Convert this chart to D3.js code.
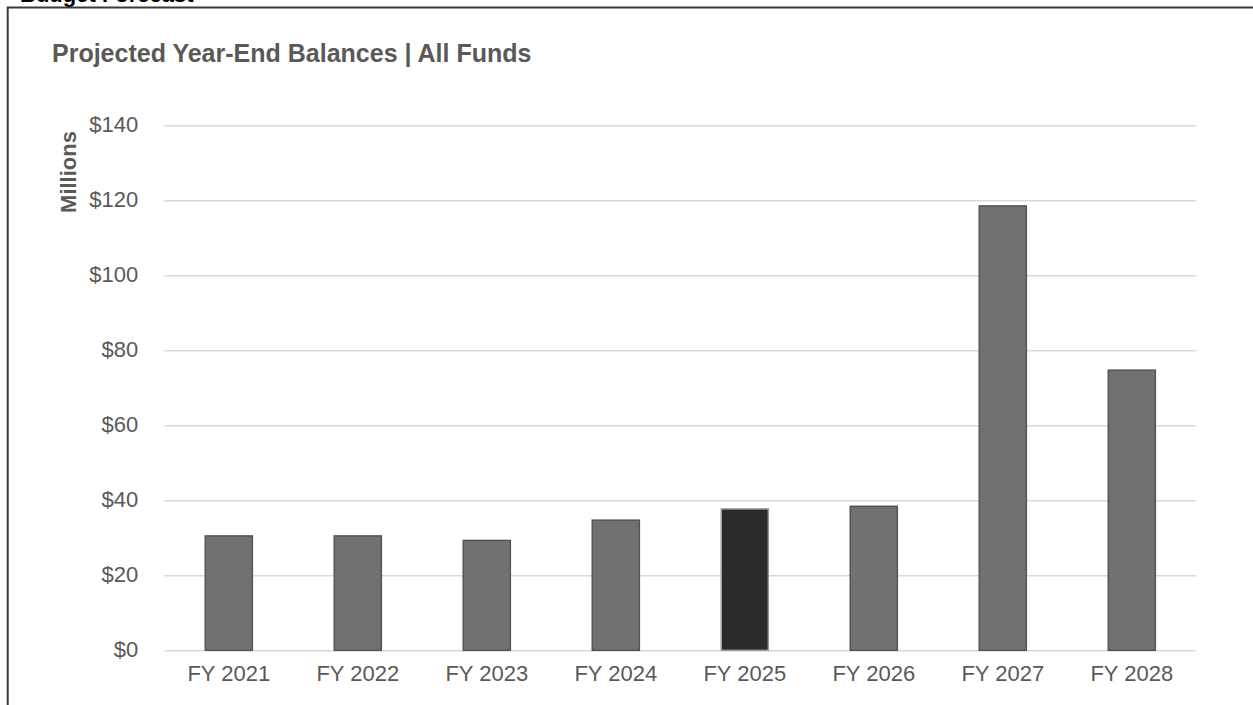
<!DOCTYPE html>
<html>
<head>
<meta charset="utf-8">
<script src="https://cdn.jsdelivr.net/npm/d3@7"></script>
<style>
  html, body { margin: 0; padding: 0; background: #fff; }
  svg { display: block; font-family: "Liberation Sans", Arial, sans-serif; }
</style>
</head>
<body>
<svg id="chart" width="1253" height="705"></svg>
<script>
// Fiscal years and projected year-end balances (in $ millions)
const years = ["FY 2021", "FY 2022", "FY 2023", "FY 2024", "FY 2025", "FY 2026", "FY 2027", "FY 2028"];
const balances = [30.5, 30.5, 29.3, 34.7, 37.7, 38.4, 118.5, 74.7];
const currentYear = "FY 2025";
const yTicks = [0, 20, 40, 60, 80, 100, 120, 140];

const svg = d3.select("#chart");
const W = 1253, H = 705;
const plot = { left: 164.3, right: 1196.3, top: 125.3, bottom: 650.3 };

// Page heading running off the top edge above the chart frame
svg.append("text")
  .attr("x", 20).attr("y", 1.8)
  .attr("font-size", 22).attr("font-weight", "bold").attr("fill", "#000")
  .text("Budget Forecast");

// Chart frame (top and left edges)
svg.append("path")
  .attr("d", `M${W},7.5 H7.7 V${H}`)
  .attr("fill", "none").attr("stroke", "#3a3a3a").attr("stroke-width", 2);

// Title
svg.append("text")
  .attr("x", 52).attr("y", 61.5)
  .attr("font-size", 25).attr("font-weight", "bold").attr("fill", "#595959")
  .text("Projected Year-End Balances | All Funds");

const x = d3.scaleBand().domain(years).range([plot.left, plot.right]).paddingInner(0.635).paddingOuter(0.3175);
const y = d3.scaleLinear().domain([0, 140]).range([plot.bottom, plot.top]);

// Horizontal gridlines with currency labels
const yAxis = d3.axisLeft(y).tickValues(yTicks).tickFormat(d => "$" + d)
  .tickSize(-(plot.right - plot.left)).tickPadding(26);
const gy = svg.append("g").attr("transform", `translate(${plot.left},0)`).call(yAxis);
gy.select(".domain").remove();
gy.selectAll(".tick line").attr("stroke", "#d9d9d9").attr("stroke-width", 1.5);
gy.selectAll(".tick text")
  .attr("font-size", 22).attr("fill", "#595959")
  .attr("font-family", "Liberation Sans, Arial, sans-serif").attr("dy", "0.3em");

// Category labels
const xAxis = d3.axisBottom(x).tickSize(0).tickPadding(15);
const gx = svg.append("g").attr("transform", `translate(0,${plot.bottom})`).call(xAxis);
gx.select(".domain").remove();
gx.selectAll(".tick text")
  .attr("font-size", 22).attr("fill", "#595959")
  .attr("font-family", "Liberation Sans, Arial, sans-serif").attr("dy", "0.71em");

// Bars
svg.append("g").selectAll("rect")
  .data(years.map((yr, i) => ({ yr, v: balances[i] })))
  .join("rect")
  .attr("x", d => x(d.yr))
  .attr("y", d => y(d.v))
  .attr("width", x.bandwidth())
  .attr("height", d => y(0) - y(d.v))
  .attr("fill", d => d.yr === currentYear ? "#2a2b2d" : "#717171")
  .attr("stroke", d => d.yr === currentYear ? "#9a9a9a" : "#555555")
  .attr("stroke-width", 1.5);

// Axis title
svg.append("text")
  .attr("transform", "translate(76,172) rotate(-90)")
  .attr("text-anchor", "middle")
  .attr("font-size", 22).attr("font-weight", "bold").attr("fill", "#595959")
  .text("Millions");
</script>
</body>
</html>
